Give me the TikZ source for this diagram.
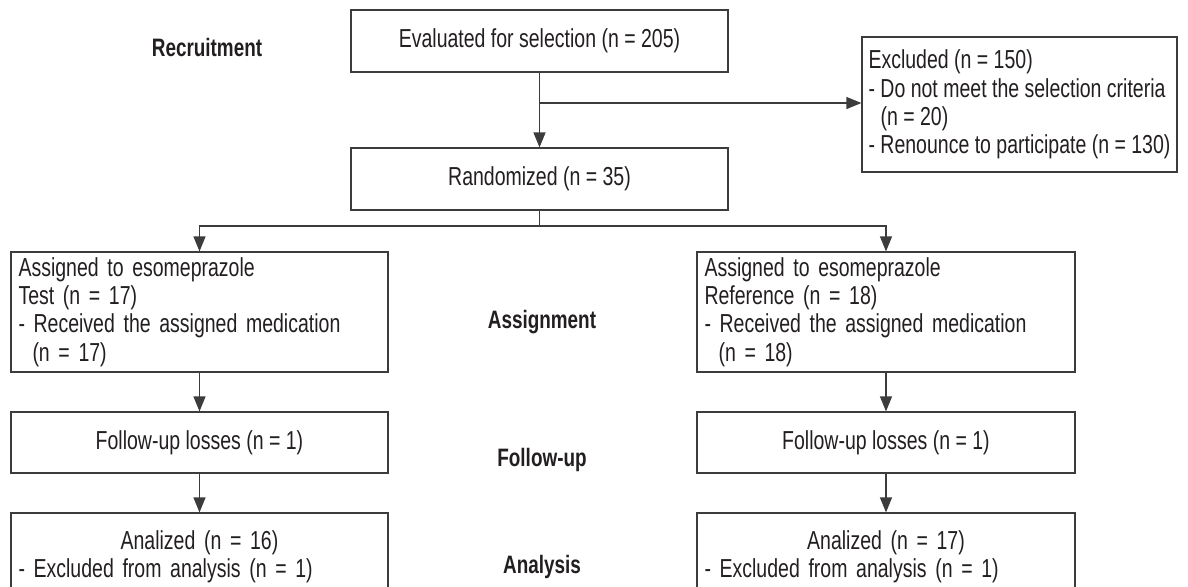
\documentclass[tikz,border=0pt]{standalone}
\usepackage{fontspec}
\setmainfont{Liberation Sans}[FakeStretch=0.75]
\usetikzlibrary{arrows.meta}
\definecolor{txt}{RGB}{35,31,32}
\definecolor{ln}{RGB}{60,60,60}
\begin{document}
\begin{tikzpicture}[x=0.5pt,y=-0.5pt,
  every node/.style={text=txt,font=\fontsize{13pt}{14.2pt}\selectfont},
  box/.style={draw=ln,line width=0.6pt,rectangle,inner xsep=3.75pt,inner ysep=0pt,minimum width=188.5pt},
  lbox/.style={box,align=left,text width=181pt},
  stage/.style={font=\fontsize{12.6pt}{14pt}\selectfont\bfseries},
  conn/.style={draw=ln,line width=0.6pt},
  arr/.style={conn,-{Triangle[length=7.5pt,width=6pt]}}]
\useasboundingbox (0,0) rectangle (1188,586);
\clip (0,0) rectangle (1188,586);
\fill[white] (0,0) rectangle (1188,586);

% stage labels
\node[stage] (lrec) at (207,47) {Recruitment};
\node[stage] (lass) at (542,322) {Assignment};
\node[stage] (lfu) at (542,460) {Follow-up};
\node[stage] (lan) at (542,567) {Analysis};

% boxes
\node[box,minimum height=31pt] (eval) at (539.5,41) {Evaluated for selection (n = 205)};
\node[box,minimum height=31pt] (rand) at (539.5,179) {Randomized (n = 35)};
\node[box,minimum width=157.5pt,minimum height=67.5pt,inner xsep=0pt,align=left] (excl) at (1019.5,104.5)
  {Excluded (n = 150)\\- Do not meet the selection criteria\\\hspace*{6pt}(n = 20)\\- Renounce to participate (n = 130)};

\node[lbox,minimum height=60pt] (aL) at (199.5,312)
  {Assigned to esomeprazole\\Test (n = 17)\\- Received the assigned medication\\\hspace*{7pt}(n = 17)};
\node[lbox,minimum height=60pt,minimum width=189pt,text width=181.5pt] (aR) at (886,312)
  {Assigned to esomeprazole\\Reference (n = 18)\\- Received the assigned medication\\\hspace*{7pt}(n = 18)};

\node[box,minimum height=30.5pt] (fL) at (199.5,442.5) {Follow-up losses (n = 1)};
\node[box,minimum height=30.5pt,minimum width=189pt] (fR) at (886,442.5) {Follow-up losses (n = 1)};

\node[lbox,minimum height=43.5pt] (nL) at (199.5,556.5)
  {\makebox[\linewidth][c]{Analized (n = 16)}\\- Excluded from analysis (n = 1)};
\node[lbox,minimum height=43.5pt,minimum width=189pt,text width=181.5pt] (nR) at (886,556.5)
  {\makebox[\linewidth][c]{Analized (n = 17)}\\- Excluded from analysis (n = 1)};

% connectors
\coordinate (brk) at (539.5,103);
\coordinate (brL) at (199.5,226);
\draw[arr] (eval.south) -- (rand.north);
\draw[arr] (brk) -- (excl.west |- brk);
\draw[arr] (rand.south) -- (rand.south |- brL) -| (aL.north);
\draw[arr] (rand.south |- brL) -| (aR.north);
\draw[arr] (aL.south) -- (fL.north);
\draw[arr] (aR.south) -- (fR.north);
\draw[arr] (fL.south) -- (nL.north);
\draw[arr] (fR.south) -- (nR.north);
\end{tikzpicture}
\end{document}
